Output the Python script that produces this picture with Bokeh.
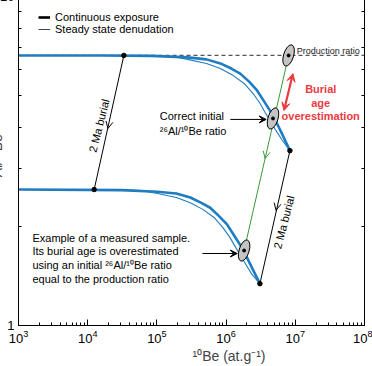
import math
from bokeh.plotting import figure
from bokeh.models import (LogAxis, Arrow, OpenHead, VeeHead, Legend,
                          LegendItem, Range1d, FixedTicker, Title)
from bokeh.core.properties import value
from bokeh.embed import file_html
from bokeh.resources import INLINE

# ---------------- data ----------------
# continuous exposure (thick) and steady state denudation (thin), surface
cont_be = [1e3, 1.61e4, 8.4e4, 2.77e5, 5.2e5, 8.26e5, 1.19e6, 1.6e6, 2.15e6,
           2.8e6, 3.54e6, 4.31e6, 5.26e6, 6.41e6, 8.36e6]
cont_ratio = [6.62, 6.62, 6.6, 6.53, 6.44, 6.26, 6.04, 5.83, 5.51, 5.18,
              4.80, 4.50, 4.17, 3.83, 3.40]
ss_be = [1e3, 6.05e4, 1.63e5, 2.77e5, 5.2e5, 8.26e5, 1.27e6, 1.82e6, 2.46e6,
         3.1e6, 3.66e6, 4.31e6, 5.26e6, 6.41e6, 8.36e6]
ss_ratio = [6.62, 6.62, 6.58, 6.44, 6.26, 6.04, 5.75, 5.44, 5.07, 4.73,
            4.44, 4.20, 3.91, 3.67, 3.40]
# after 2 Ma burial
cont_bur_be = [1e3, 3.1e4, 1.02e5, 1.91e5, 3.04e5, 4.38e5, 5.89e5, 7.91e5,
               1.03e6, 1.3e6, 1.59e6, 1.94e6, 2.36e6, 3.08e6]
cont_bur_ratio = [2.59, 2.58, 2.55, 2.52, 2.45, 2.36, 2.28, 2.15, 2.03,
                  1.88, 1.76, 1.63, 1.50, 1.34]
ss_bur_be = [1e3, 2.23e4, 6.0e4, 1.02e5, 1.91e5, 3.04e5, 4.67e5, 6.7e5,
             9.05e5, 1.14e6, 1.35e6, 1.59e6, 1.94e6, 2.36e6, 3.08e6]
ss_bur_ratio = [2.59, 2.59, 2.57, 2.52, 2.45, 2.36, 2.25, 2.13, 1.98, 1.85,
                1.74, 1.64, 1.53, 1.43, 1.34]

production_ratio = 6.62
x_min, x_max = 1e3, 1e8
y_min, y_max = 1, 10
y_major_ticks = [1, 10]
y_minor_ticks = [2, 3, 4, 5, 6, 7, 8, 9]
y_tick_labels = {1: "1", 10: "10"}

# burial paths (start, arrow position, end)
burial_left_be = [3.33e4, 1.96e4, 1.24e4]
burial_left_ratio = [6.62, 3.97, 2.59]
burial_right_be = [8.36e6, 5.26e6, 3.08e6]
burial_right_ratio = [3.40, 2.24, 1.34]
green_be = [8.0e6, 3.66e6, 1.82e6]
green_ratio = [6.62, 3.22, 1.69]

# samples (ellipses)
sample_be = [8.0e6, 4.76e6, 1.82e6]
sample_ratio = [6.62, 4.26, 1.69]

# annotations
red_arrow_be = [9.25e6, 6.86e6]
red_arrow_ratio = [5.83, 4.50]
red_text = ["Burial", "age", "overestimation"]
red_text_be = [2.33e7, 2.33e7, 2.33e7]
red_text_ratio = [5.25, 4.76, 4.32]

correct_text = ["Correct initial", "\u00b2\u2076Al/\u00b9\u2070Be ratio"]
correct_text_be = [1.1e5, 1.1e5]
correct_text_ratio = [4.32, 3.91]
correct_arrow_be = [1.15e6, 3.79e6]
correct_arrow_ratio = [4.23, 4.23]

example_text = ["Example of a measured sample.",
                "Its burial age is overestimated",
                "using an initial \u00b2\u2076Al/\u00b9\u2070Be ratio",
                "equal to the production ratio"]
example_text_be = [1.59e3] * 4
example_text_ratio = [1.851, 1.679, 1.522, 1.38]
example_arrow_be = [4.55e5, 1.45e6]
example_arrow_ratio = [1.655, 1.655]

burial_label = ["2 Ma burial", "2 Ma burial"]
burial_label_be = [1.46e4, 6.86e6]
burial_label_ratio = [4.05, 2.06]

prod_label_be = 1.05e7
prod_label_ratio = 6.85

FONT = "Liberation Sans"
BLUE = "#1f7cc0"
GREEN = "#3a9a3a"
RED = "#ec3a3f"

# the reference picture is a crop: the figure is a little larger than the
# window and shifted up/left so the same part shows
SHIFT_LEFT, SHIFT_TOP = 14, 10
p = figure(width=372 + SHIFT_LEFT, height=366 + SHIFT_TOP,
           x_axis_type="log", y_axis_type="log",
           x_range=Range1d(x_min, x_max), y_range=Range1d(y_min, y_max),
           output_backend="svg", toolbar_location=None,
           min_border_left=30, min_border_right=8, min_border_top=6,
           min_border_bottom=41, margin=(-SHIFT_TOP, 0, 0, -SHIFT_LEFT))
p.outline_line_color = None
p.grid.visible = False
p.background_fill_color = "white"

# axes styling
for ax in (p.xaxis[0], p.yaxis[0]):
    ax.major_tick_in = 6
    ax.major_tick_out = 0
    ax.minor_tick_in = 3
    ax.minor_tick_out = 0
    ax.axis_line_color = "black"
    ax.major_tick_line_color = "black"
    ax.minor_tick_line_color = "black"
    ax.major_label_text_font = FONT
    ax.major_label_text_color = "black"
    ax.major_label_text_font_size = "13px"
p.xaxis.major_label_standoff = 4
p.yaxis.ticker = FixedTicker(ticks=y_major_ticks, minor_ticks=y_minor_ticks)
p.yaxis.major_label_standoff = 4
p.yaxis.major_label_overrides = y_tick_labels
p.yaxis.axis_label = "\u00b2\u2076Al/\u00b9\u2070Be"
p.yaxis.axis_label_text_font = FONT
p.yaxis.axis_label_text_font_size = "14px"
p.yaxis.axis_label_text_font_style = "normal"
p.yaxis.axis_label_standoff = -8

right = LogAxis(ticker=FixedTicker(ticks=[], minor_ticks=y_minor_ticks),
                major_tick_in=6, major_tick_out=0, minor_tick_in=3,
                minor_tick_out=0, major_label_standoff=0)
p.add_layout(right, "right")

p.add_layout(Title(text="\u00b9\u2070Be (at.g\u207b\u00b9)", align="left",
                   offset=174, text_font=FONT, text_font_size="14px",
                   text_font_style="normal", standoff=0), "below")

# production ratio dashed line
p.line([x_min, x_max], [production_ratio, production_ratio],
       line_color="#555555", line_width=1.2, line_dash="4 3")

# curves
p.line(ss_be, ss_ratio, line_color=BLUE, line_width=1.1)
p.line(cont_be, cont_ratio, line_color=BLUE, line_width=2.6)
p.line(ss_bur_be, ss_bur_ratio, line_color=BLUE, line_width=1.1)
p.line(cont_bur_be, cont_bur_ratio, line_color=BLUE, line_width=2.6)

# burial paths
for bx, by, col in ((burial_left_be, burial_left_ratio, "black"),
                    (burial_right_be, burial_right_ratio, "black"),
                    (green_be, green_ratio, GREEN)):
    p.line([bx[0], bx[2]], [by[0], by[2]], line_color=col, line_width=1)
    p.add_layout(Arrow(end=OpenHead(size=7, line_color=col, line_width=1),
                       x_start=bx[0], y_start=by[0], x_end=bx[1], y_end=by[1],
                       line_color=col, line_width=1, line_alpha=0))

p.scatter([burial_left_be[0], burial_left_be[2], burial_right_be[0],
           burial_right_be[2]],
          [burial_left_ratio[0], burial_left_ratio[2], burial_right_ratio[0],
           burial_right_ratio[2]], size=4.5, color="black")

# samples
p.ellipse(sample_be, sample_ratio, width=10, height=22, width_units="screen",
          height_units="screen", angle=-0.3, fill_color="#c4c4c4",
          line_color="black", line_width=1)
p.scatter(sample_be, sample_ratio, size=3, color="black")

# red double arrow
p.add_layout(Arrow(start=VeeHead(size=8, fill_color=RED, line_color=RED),
                   end=VeeHead(size=8, fill_color=RED, line_color=RED),
                   x_start=red_arrow_be[0], y_start=red_arrow_ratio[0],
                   x_end=red_arrow_be[1], y_end=red_arrow_ratio[1],
                   line_color=RED, line_width=2.2))
p.text(red_text_be, red_text_ratio, text=red_text, text_font=value(FONT),
       text_font_size="11px", text_font_style="bold", text_color=RED,
       text_align="center", text_baseline="middle")

# black pointer arrows
for ax_, ay_ in ((correct_arrow_be, correct_arrow_ratio),
                 (example_arrow_be, example_arrow_ratio)):
    p.add_layout(Arrow(end=VeeHead(size=7, fill_color="black",
                                   line_color="black"),
                       x_start=ax_[0], y_start=ay_[0], x_end=ax_[1],
                       y_end=ay_[1], line_color="black", line_width=1))

p.text(correct_text_be, correct_text_ratio, text=correct_text,
       text_font=value(FONT), text_font_size="11px", text_color="black",
       text_align="left", text_baseline="middle")
p.text(example_text_be, example_text_ratio, text=example_text,
       text_font=value(FONT), text_font_size="11px", text_color="black",
       text_align="left", text_baseline="middle")
p.text(burial_label_be, burial_label_ratio, text=burial_label,
       text_font=value(FONT), text_font_size="11px", text_color="black",
       text_align="center", text_baseline="middle", angle=1.32)
p.text([prod_label_be], [prod_label_ratio], text=["Production ratio"],
       text_font=value(FONT), text_font_size="9px", text_color="#222222",
       text_align="left", text_baseline="middle")

# legend with black symbols (renderers hold points outside the view)
r1 = p.line([2e8, 3e8], [20, 20], line_color="black", line_width=2.6)
r2 = p.line([2e8, 3e8], [20, 20], line_color="#444444", line_width=1)
legend = Legend(items=[LegendItem(label="Continuous exposure", renderers=[r1]),
                       LegendItem(label="Steady state denudation",
                                  renderers=[r2])],
                location=(20, 290), padding=0, margin=0, spacing=0,
                glyph_width=12, glyph_height=12, label_height=12,
                label_standoff=5, label_text_font=FONT,
                label_text_color="black",
                label_text_font_size="11px", border_line_color=None,
                background_fill_alpha=0)
p.add_layout(legend, "center")

open("out.html", "w").write(file_html(p, INLINE))
